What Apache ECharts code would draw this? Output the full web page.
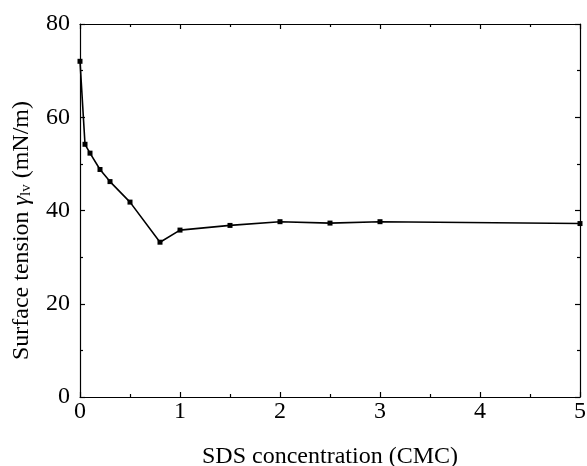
<!DOCTYPE html>
<html>
<head>
<meta charset="utf-8">
<script src="https://cdn.jsdelivr.net/npm/echarts@6/dist/echarts.min.js"></script>
<style>html,body{margin:0;padding:0;background:#fff;}#c{width:587px;height:466px;}</style>
</head>
<body>
<div id="c"></div>
<script>
const concentration = [0, 0.05, 0.1, 0.2, 0.3, 0.5, 0.8, 1.0, 1.5, 2.0, 2.5, 3.0, 5.0];
const tension = [72.0, 54.2, 52.3, 48.8, 46.2, 41.8, 33.2, 35.8, 36.8, 37.6, 37.3, 37.6, 37.2];
const xTicks = [0, 1, 2, 3, 4, 5];
const yTicks = [0, 20, 40, 60, 80];

const font = 'Liberation Serif';
const data = concentration.map((x, i) => [x, tension[i]]);
const chart = echarts.init(document.getElementById('c'));
const axisCommon = {
  axisLine: { show: true, onZero: false, lineStyle: { color: '#000', width: 1.2 } },
  axisTick: { show: true, inside: true, length: 5, lineStyle: { color: '#000', width: 1.2 } },
  minorTick: { show: true, splitNumber: 2, length: 3, lineStyle: { color: '#000', width: 1.2 } },
  splitLine: { show: false }
};
chart.setOption({
  animation: false,
  backgroundColor: '#fff',
  grid: { left: 80, right: 7, top: 24, bottom: 69, containLabel: false, outerBoundsMode: 'none' },
  xAxis: [
    Object.assign({}, axisCommon, {
      type: 'value', min: xTicks[0], max: xTicks[xTicks.length - 1], interval: 1,
      position: 'bottom',
      name: 'SDS concentration (CMC)', nameLocation: 'middle', nameGap: 48,
      nameTextStyle: { fontFamily: font, fontSize: 24, color: '#000' },
      axisLabel: { fontFamily: font, fontSize: 24, color: '#000', margin: 3 }
    }),
    Object.assign({}, axisCommon, {
      type: 'value', min: xTicks[0], max: xTicks[xTicks.length - 1], interval: 1,
      position: 'top', axisLabel: { show: false }
    })
  ],
  yAxis: [
    Object.assign({}, axisCommon, {
      type: 'value', min: yTicks[0], max: yTicks[yTicks.length - 1], interval: 20,
      position: 'left',
      name: '{n|Surface tension }{g|γ}{s|lv}{n| (mN/m)}', nameLocation: 'middle', nameGap: 46,
      nameRotate: 90,
      nameTextStyle: {
        fontFamily: font, fontSize: 24, color: '#000',
        padding: [0, 40, 0, 0],
        rich: {
          n: { fontFamily: font, fontSize: 24, color: '#000' },
          g: { fontFamily: font, fontSize: 24, fontStyle: 'italic', color: '#000' },
          s: { fontFamily: font, fontSize: 15, color: '#000', verticalAlign: 'bottom', padding: [10, 0, 0, 0] }
        }
      },
      axisLabel: { fontFamily: font, fontSize: 24, color: '#000', margin: 10 }
    }),
    Object.assign({}, axisCommon, {
      type: 'value', min: yTicks[0], max: yTicks[yTicks.length - 1], interval: 20,
      position: 'right', axisLabel: { show: false }
    })
  ],
  series: [{
    type: 'line',
    data: data,
    xAxisIndex: 0, yAxisIndex: 0,
    symbol: 'rect', symbolSize: 5,
    lineStyle: { color: '#000', width: 1.6 },
    itemStyle: { color: '#000' }
  }]
});
</script>
</body>
</html>
